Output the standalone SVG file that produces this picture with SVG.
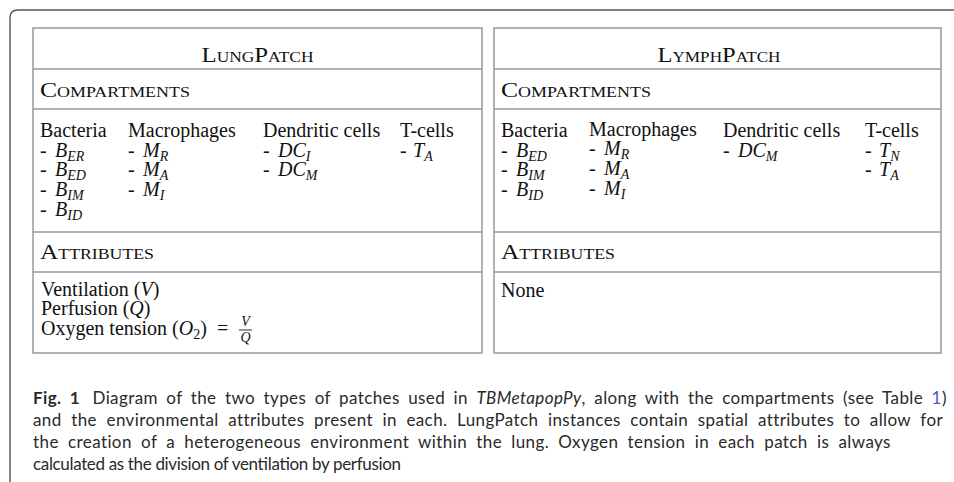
<svg xmlns="http://www.w3.org/2000/svg" width="954" height="482" viewBox="0 0 954 482">
<style>
.frame{fill:none;stroke:#555;stroke-width:1.4}
.box{fill:#fff;stroke:#999;stroke-width:1.5}
.rule{stroke:#999;stroke-width:1.5}
.b{font-family:"Liberation Serif",serif;font-size:20px;fill:#111}
.sc{font-variant:small-caps}
.mi{font-style:italic}
.sub{font-style:italic;font-size:14px}
.subu{font-size:14px}
.fr{font-family:"Liberation Serif",serif;font-size:14px;font-style:italic;fill:#111;text-anchor:middle}
.cap{font-family:Lato,"Open Sans",sans-serif;font-size:17px;fill:#2a2a2a}
.ls{letter-spacing:0.4px}
.bold{font-weight:bold}
.it{font-style:italic}
.link{fill:#4a5bd4}
</style>
<rect width="954" height="482" fill="#fff"/>
<g id="frame">
<path class="frame" d="M10,482 V18 Q10,10 18,10 H954"/>
</g>
<g id="lung-patch">
<rect class="box" x="33" y="28" width="449" height="325"/>
<line class="rule" x1="33" y1="69" x2="482" y2="69"/>
<line class="rule" x1="33" y1="109" x2="482" y2="109"/>
<line class="rule" x1="33" y1="232" x2="482" y2="232"/>
<line class="rule" x1="33" y1="272" x2="482" y2="272"/>
<text class="b sc" x="257.5" y="62" text-anchor="middle" textLength="112" lengthAdjust="spacingAndGlyphs">LungPatch</text>
<text class="b sc" x="40" y="96.5" textLength="150" lengthAdjust="spacingAndGlyphs">Compartments</text>
<text class="b" x="40" y="137">Bacteria</text>
<text class="b" x="40" y="156.5">-<tspan class="mi" x="55">B</tspan><tspan class="sub" dy="4">ER</tspan></text>
<text class="b" x="40" y="176">-<tspan class="mi" x="55">B</tspan><tspan class="sub" dy="4">ED</tspan></text>
<text class="b" x="40" y="196">-<tspan class="mi" x="55">B</tspan><tspan class="sub" dy="4">IM</tspan></text>
<text class="b" x="40" y="215.5">-<tspan class="mi" x="55">B</tspan><tspan class="sub" dy="4">ID</tspan></text>
<text class="b" x="128" y="137">Macrophages</text>
<text class="b" x="128" y="156.5">-<tspan class="mi" x="143">M</tspan><tspan class="sub" dy="4">R</tspan></text>
<text class="b" x="128" y="176">-<tspan class="mi" x="143">M</tspan><tspan class="sub" dy="4">A</tspan></text>
<text class="b" x="128" y="196">-<tspan class="mi" x="143">M</tspan><tspan class="sub" dy="4">I</tspan></text>
<text class="b" x="263" y="137">Dendritic cells</text>
<text class="b" x="263" y="156.5">-<tspan class="mi" x="278">DC</tspan><tspan class="sub" dy="4">I</tspan></text>
<text class="b" x="263" y="176">-<tspan class="mi" x="278">DC</tspan><tspan class="sub" dy="4">M</tspan></text>
<text class="b" x="400" y="137">T-cells</text>
<text class="b" x="400" y="156.5">-<tspan class="mi" x="413">T</tspan><tspan class="sub" dy="4">A</tspan></text>
<text class="b sc" x="40" y="258.5" textLength="114" lengthAdjust="spacingAndGlyphs">Attributes</text>
<text class="b" x="41" y="296">Ventilation (<tspan class="mi">V</tspan>)</text>
<text class="b" x="41" y="315">Perfusion (<tspan class="mi">Q</tspan>)</text>
<text class="b" x="41" y="334.5">Oxygen tension (<tspan class="mi">O</tspan><tspan class="subu" dy="4">2</tspan><tspan dy="-4">)</tspan></text>
<text class="b" x="217" y="334.5">=</text>
<text class="fr" x="245.5" y="326">V</text>
<line x1="239" y1="330" x2="252" y2="330" stroke="#111" stroke-width="0.9"/>
<text class="fr" x="245.5" y="342">Q</text>
</g>
<g id="lymph-patch">
<rect class="box" x="494" y="28" width="447" height="325"/>
<line class="rule" x1="494" y1="69" x2="941" y2="69"/>
<line class="rule" x1="494" y1="109" x2="941" y2="109"/>
<line class="rule" x1="494" y1="232" x2="941" y2="232"/>
<line class="rule" x1="494" y1="272" x2="941" y2="272"/>
<text class="b sc" x="719" y="62" text-anchor="middle" textLength="123" lengthAdjust="spacingAndGlyphs">LymphPatch</text>
<text class="b sc" x="501" y="96.5" textLength="150" lengthAdjust="spacingAndGlyphs">Compartments</text>
<text class="b" x="501" y="137">Bacteria</text>
<text class="b" x="501" y="156.5">-<tspan class="mi" x="516">B</tspan><tspan class="sub" dy="4">ED</tspan></text>
<text class="b" x="501" y="176">-<tspan class="mi" x="516">B</tspan><tspan class="sub" dy="4">IM</tspan></text>
<text class="b" x="501" y="196">-<tspan class="mi" x="516">B</tspan><tspan class="sub" dy="4">ID</tspan></text>
<text class="b" x="589" y="135.5">Macrophages</text>
<text class="b" x="589" y="155">-<tspan class="mi" x="604">M</tspan><tspan class="sub" dy="4">R</tspan></text>
<text class="b" x="589" y="174.5">-<tspan class="mi" x="604">M</tspan><tspan class="sub" dy="4">A</tspan></text>
<text class="b" x="589" y="194.5">-<tspan class="mi" x="604">M</tspan><tspan class="sub" dy="4">I</tspan></text>
<text class="b" x="723" y="137">Dendritic cells</text>
<text class="b" x="723" y="156.5">-<tspan class="mi" x="738">DC</tspan><tspan class="sub" dy="4">M</tspan></text>
<text class="b" x="865" y="137">T-cells</text>
<text class="b" x="865" y="156.5">-<tspan class="mi" x="879">T</tspan><tspan class="sub" dy="4">N</tspan></text>
<text class="b" x="865" y="176">-<tspan class="mi" x="879">T</tspan><tspan class="sub" dy="4">A</tspan></text>
<text class="b sc" x="501" y="258.5" textLength="114" lengthAdjust="spacingAndGlyphs">Attributes</text>
<text class="b" x="501" y="297">None</text>
</g>
<g id="caption">
<text class="cap ls" x="33" y="404" word-spacing="3.7"><tspan class="bold">Fig. 1</tspan><tspan dx="4"> Diagram of the two types of patches used in </tspan><tspan class="it">TBMetapopPy</tspan>, along with the compartments (see Table <tspan class="link">1</tspan>)</text>
<text class="cap ls" x="33" y="426" word-spacing="4.8">and the environmental attributes present in each. LungPatch instances contain spatial attributes to allow for</text>
<text class="cap ls" x="33" y="448" word-spacing="4.5">the creation of a heterogeneous environment within the lung. Oxygen tension in each patch is always</text>
<text class="cap" x="33" y="470" textLength="368" lengthAdjust="spacing">calculated as the division of ventilation by perfusion</text>
</g>
</svg>
